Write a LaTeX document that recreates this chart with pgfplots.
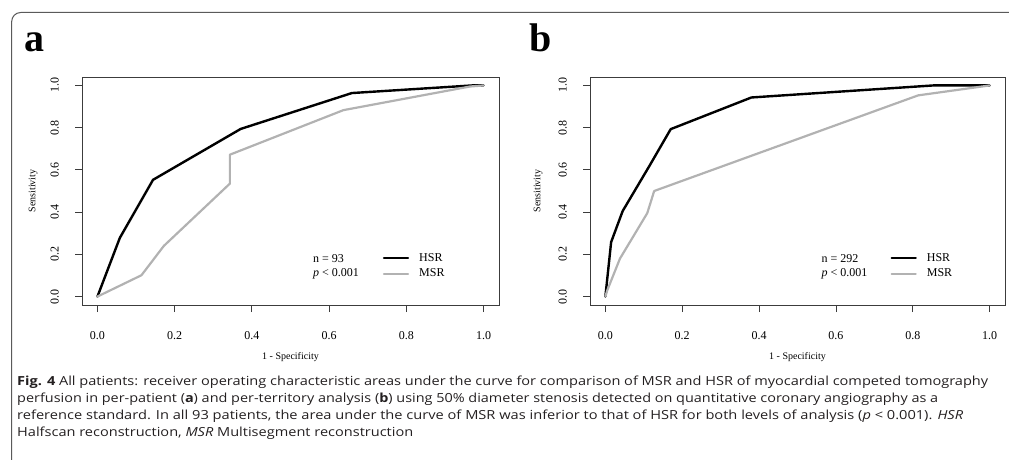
\documentclass[border=0pt]{standalone}
\usepackage{pgfplots}
\pgfplotsset{compat=1.18}
\usepackage{pgfplotstable}
\usepackage{fontspec}
\usepackage{graphicx}
\setmainfont{Liberation Serif}
\newfontfamily\capfont{Open Sans}

\definecolor{msrgray}{RGB}{178,178,178}
\definecolor{framegray}{RGB}{60,60,60}
\definecolor{boxgray}{RGB}{90,90,90}
\definecolor{captext}{RGB}{35,31,32}

% Panel a (per-patient)
\pgfplotstableread{
x y
0 0
0.058 0.278
0.144 0.553
0.371 0.794
0.659 0.964
0.97 1.0
1 1
}\hsra
\pgfplotstableread{
x y
0 0
0.114 0.101
0.172 0.240
0.343 0.535
0.343 0.672
0.637 0.883
0.965 0.995
1 1
}\msra
% Panel b (per-territory)
\pgfplotstableread{
x y
0 0
0.015 0.258
0.045 0.405
0.115 0.620
0.170 0.793
0.380 0.943
0.853 1.0
1 1
}\hsrb
\pgfplotstableread{
x y
0 0
0.005 0.03
0.038 0.180
0.109 0.395
0.127 0.500
0.814 0.953
1 1
}\msrb

\pgfplotsset{
  rocax/.style={
    scale only axis, height=228pt,
    xmin=-0.04, xmax=1.04, ymin=-0.04, ymax=1.04,
    axis line style={framegray, line width=0.8pt},
    tick style={framegray, line width=0.8pt},
    major tick length=7pt, tick align=outside,
    xtick pos=left, ytick pos=left,
    xtick={0,0.2,0.4,0.6,0.8,1}, xticklabels={0.0,0.2,0.4,0.6,0.8,1.0},
    ytick={0,0.2,0.4,0.6,0.8,1},
    yticklabels={\rotatebox{90}{0.0},\rotatebox{90}{0.2},\rotatebox{90}{0.4},\rotatebox{90}{0.6},\rotatebox{90}{0.8},\rotatebox{90}{1.0}},
    tick label style={font=\fontsize{12}{12}\selectfont},
    xticklabel style={anchor=north, inner sep=0pt, yshift=-19pt},
    yticklabel style={anchor=east, inner sep=0pt, xshift=-16pt},
    label style={font=\fontsize{12}{12}\selectfont},
    xlabel={1 - Specificity}, ylabel={Sensitivity},
    every axis x label/.style={at={(axis description cs:0.5,-0.228)}, anchor=center},
    legend cell align=left,
    legend image code/.code={\draw[#1] (0pt,0pt) -- (24pt,0pt);},
    legend style={draw=none, fill=none, inner sep=0pt, outer sep=0pt,
      anchor=west, row sep=6.3pt, font=\fontsize{12}{12}\selectfont,
      nodes={inner sep=0pt},
      /tikz/every odd column/.append style={column sep=10pt}},
    hsr/.style={black, line width=2.4pt, line join=round, line cap=round},
    msr/.style={msrgray, line width=2.2pt, line join=round, line cap=round},
  }
}

\begin{document}
\begin{tikzpicture}
\useasboundingbox (0,0) rectangle (1009pt,459pt);
\draw[boxgray, line width=1pt, rounded corners=9pt] (1030pt,446.5pt) -- (11.7pt,446.5pt) -- (11.7pt,-20pt);

\node[anchor=base west, inner sep=0pt, font=\fontsize{40}{40}\selectfont\bfseries] at (24pt,407pt) {a};
\node[anchor=base west, inner sep=0pt, font=\fontsize{40}{40}\selectfont\bfseries] at (529pt,407pt) {b};

\begin{axis}[rocax, width=417pt, at={(82pt,154pt)}, anchor=south west,
  every axis y label/.style={at={(axis description cs:-0.117,0.5)}, anchor=center, rotate=90},
  legend style={at={(axis cs:0.739,0.146)}}]
  \addplot[hsr] table {\hsra};
  \addplot[msr] table {\msra};
  \legend{HSR, MSR}
  \node[anchor=base west, inner sep=0pt, font=\fontsize{12}{12}\selectfont] at (axis cs:0.558,0.161) {n = 93};
  \node[anchor=base west, inner sep=0pt, font=\fontsize{12}{12}\selectfont] at (axis cs:0.558,0.0935) {\textit{p} < 0.001};
\end{axis}

\begin{axis}[rocax, width=415pt, at={(590pt,154pt)}, anchor=south west,
  every axis y label/.style={at={(axis description cs:-0.125,0.5)}, anchor=center, rotate=90},
  legend style={at={(axis cs:0.742,0.146)}}]
  \addplot[hsr] table {\hsrb};
  \addplot[msr] table {\msrb};
  \legend{HSR, MSR}
  \node[anchor=base west, inner sep=0pt, font=\fontsize{12}{12}\selectfont] at (axis cs:0.5625,0.161) {n = 292};
  \node[anchor=base west, inner sep=0pt, font=\fontsize{12}{12}\selectfont] at (axis cs:0.5625,0.0935) {\textit{p} < 0.001};
\end{axis}

\begin{scope}[every node/.style={anchor=base west, inner sep=0pt, text=captext, font=\capfont\fontsize{12.5}{12.5}\selectfont}]
\node at (17pt,74pt) {\resizebox{971pt}{\height}{\textbf{Fig. 4} All patients: receiver operating characteristic areas under the curve for comparison of MSR and HSR of myocardial competed tomography}};
\node at (17pt,57pt) {\resizebox{921pt}{\height}{perfusion in per-patient (\textbf{a}) and per-territory analysis (\textbf{b}) using 50\% diameter stenosis detected on quantitative coronary angiography as a}};
\node at (17pt,40pt) {\resizebox{946pt}{\height}{reference standard. In all 93 patients, the area under the curve of MSR was inferior to that of HSR for both levels of analysis (\textit{p} < 0.001). \textit{HSR}}};
\node at (17pt,23pt) {\resizebox{396pt}{\height}{Halfscan reconstruction, \textit{MSR} Multisegment reconstruction}};
\end{scope}
\end{tikzpicture}
\end{document}
